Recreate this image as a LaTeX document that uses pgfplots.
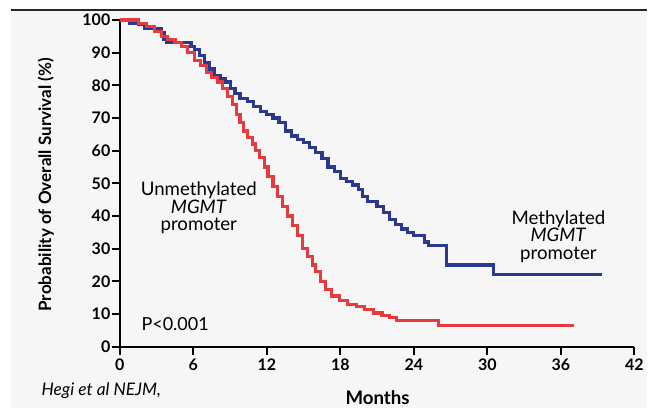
\documentclass[border=0pt]{standalone}
\usepackage{fontspec}
\setmainfont{Lato}
\usepackage{pgfplots}
\pgfplotsset{compat=1.18}
\definecolor{methblue}{HTML}{2A3890}
\definecolor{unmethred}{HTML}{E63A3E}
\definecolor{bggray}{HTML}{F6F6F6}
\begin{document}
\begin{tikzpicture}
\begin{scope}[x=0.75pt,y=0.75pt]
  \useasboundingbox (0,0) rectangle (648,408);
  \fill[white] (0,0) rectangle (648,408);
  \fill[bggray] (11,0) rectangle (648,398);
  \draw[line width=1.5pt, black!85] (11,398) -- (648,398);
\end{scope}
\begin{axis}[
  at={(90pt,45.75pt)}, anchor=south west,
  scale only axis, width=386.25pt, height=245.25pt,
  xmin=0, xmax=42, ymin=0, ymax=100,
  axis x line*=bottom, axis y line*=left,
  axis line style={line width=1.4pt, -},
  xtick={0,6,...,42}, ytick={0,10,...,100},
  tick align=outside, major tick length=6pt,
  tick style={line width=1.4pt, black},
  ticklabel style={font=\fontsize{12}{12}\selectfont\bfseries},
  yticklabel style={inner sep=1pt},
  /pgf/number format/assume math mode=true,
  clip=false,
]
% Methylated MGMT promoter
\addplot[const plot, line width=2.4pt, methblue] coordinates {
(0,100) (0.8,99) (1.5,98.5) (2,97.5) (3.4,96) (3.6,94) (3.8,93) (5.4,93)
(5.8,92) (6.1,91) (6.5,89) (6.9,87) (7.3,85) (7.7,83) (8.2,82) (8.6,81)
(9,79) (9.4,77.5) (9.8,76) (10.4,75) (10.9,73.5) (11.5,72) (12,71) (12.5,70)
(13,68.5) (13.5,66) (14,64.5) (14.5,63.5) (15,62.5) (15.5,61) (16,59.5)
(16.5,57.5) (17,55) (17.5,53.5) (18,51.5) (18.5,50.5) (19,49.5) (19.5,48)
(19.8,46) (20.2,44.5) (21,43) (21.5,41) (22,39) (22.5,37.5) (23,36)
(23.5,35) (24,34) (24.9,32) (25.2,31) (26.7,25) (30.5,22) (39.4,22)
};
% Unmethylated MGMT promoter
\addplot[const plot, line width=2.4pt, unmethred] coordinates {
(0,100) (1.5,99) (2.2,98) (2.8,96.5) (3.4,95) (3.9,94) (4.5,93) (5,92)
(5.5,90) (6.1,87.5) (6.6,86) (7.1,84) (7.5,82.5) (8,81) (8.4,79) (8.8,76.5)
(9.2,74) (9.5,71) (9.8,68.5) (10.1,66) (10.4,64) (10.8,62) (11.1,60)
(11.4,58) (11.8,55) (12.1,52) (12.5,49) (12.9,46) (13.3,43) (13.7,40)
(14.1,37) (14.5,34) (14.9,30) (15.3,27.5) (15.7,25) (16,23) (16.4,20)
(16.8,17.5) (17.3,15.5) (17.9,14) (18.6,13) (19.3,12.3) (20,11.3)
(20.7,10.3) (21.4,9.5) (22,9) (22.6,8) (26,6.5) (37.1,6.5)
};
\end{axis}
\begin{scope}[x=0.75pt,y=0.75pt]
  \node[rotate=90, font=\fontsize{12.8}{12.8}\selectfont\bfseries] at (46,223) {Probability of Overall Survival (\%)};
  \node[font=\fontsize{14}{14}\selectfont\bfseries] at (378,10) {Months};
  \node[font=\fontsize{13}{13}\selectfont\itshape, anchor=west] at (37,17) {Hegi et al NEJM,};
  \node[font=\fontsize{13.5}{13.5}\selectfont, anchor=west] at (137,84) {P<0.001};
  \node[font=\fontsize{14}{14}\selectfont, align=center] at (199,200) {Unmethylated\\[-1pt]\textit{MGMT}\\[-1pt]promoter};
  \node[font=\fontsize{14}{14}\selectfont, align=center] at (559,171) {Methylated\\[-1pt]\textit{MGMT}\\[-1pt]promoter};
\end{scope}
\end{tikzpicture}
\end{document}
